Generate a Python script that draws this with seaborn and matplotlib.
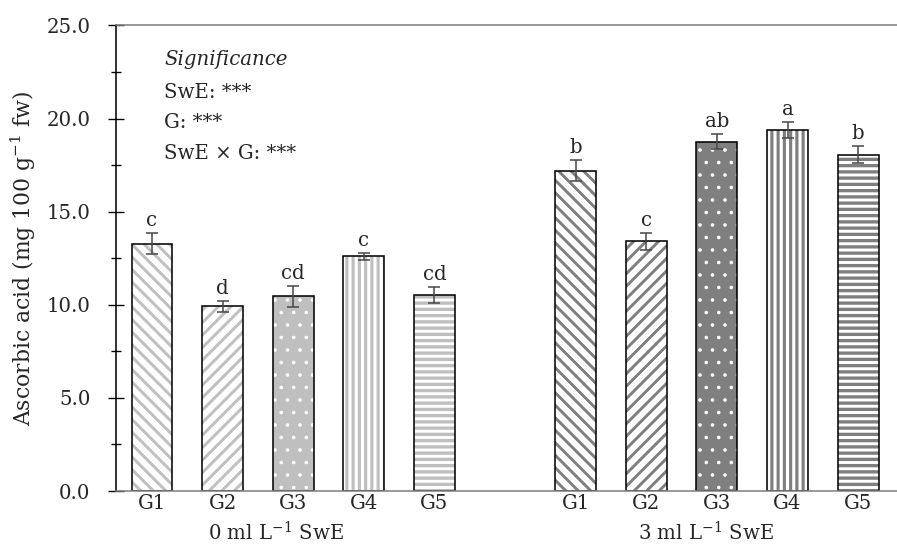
import matplotlib
matplotlib.use('Agg')
import matplotlib.pyplot as plt
import numpy as np
import pandas as pd
import seaborn as sns
from matplotlib.ticker import MultipleLocator, FormatStrFormatter

# bar values (mean and error bar half-length)
genotypes = ['G1', 'G2', 'G3', 'G4', 'G5']
treatments = ['0 ml L$^{-1}$ SwE', '3 ml L$^{-1}$ SwE']
mean_0 = [13.28, 9.91, 10.45, 12.60, 10.54]
err_0 = [0.55, 0.30, 0.58, 0.20, 0.42]
mean_3 = [17.20, 13.42, 18.75, 19.39, 18.06]
err_3 = [0.55, 0.45, 0.40, 0.42, 0.45]
letters_0 = ['c', 'd', 'cd', 'c', 'cd']
letters_3 = ['b', 'c', 'ab', 'a', 'b']
sig_lines = ['SwE: ***', 'G: ***', 'SwE × G: ***']

# positions 0-4 and 6-10, one empty slot between the groups
pos = list(range(5)) + list(range(6, 11))
df = pd.DataFrame({
    'pos': pos,
    'value': mean_0 + mean_3,
    'err': err_0 + err_3,
    'letter': letters_0 + letters_3,
    'label': genotypes + genotypes,
})

sns.set_style('white')
plt.rcParams['font.family'] = ['DejaVu Serif']
plt.rcParams['mathtext.fontset'] = 'dejavuserif'
plt.rcParams['hatch.linewidth'] = 3.0

fig = plt.figure(figsize=(897 / 75, 546 / 75), dpi=75)
ax = fig.add_axes([0.1293, 0.1007, 0.8707, 0.8526])

light = '#bfbfbf'
dark = '#7f7f7f'
hatches = ['\\\\', '//', '.', '||', '--'] * 2
hatch_cols = [light, light, 'white', light, light, dark, dark, 'white', dark, dark]
faces = ['white', 'white', light, 'white', 'white', 'white', 'white', dark, 'white', 'white']
hatch_lw = [2.8, 2.8, 1.0, 3.0, 3.2] * 2

# hatched fill layer
sns.barplot(data=df, x='pos', y='value', native_scale=True, width=0.58,
            errorbar=None, color='white', linewidth=0, ax=ax)
for p, h, hc, fc, hl in zip(ax.patches, hatches, hatch_cols, faces, hatch_lw):
    p.set_facecolor(fc)
    p.set_edgecolor(hc)
    p.set_linewidth(0)
    p.set_hatch(h)
    if hasattr(p, 'set_hatch_linewidth'):
        p.set_hatch_linewidth(hl)

# black outline layer
sns.barplot(data=df, x='pos', y='value', native_scale=True, width=0.58,
            errorbar=None, fill=False, color='black', linewidth=1.5, ax=ax)

ax.errorbar(df['pos'], df['value'], yerr=df['err'], fmt='none',
            ecolor='#4a4a4a', elinewidth=1.5, capsize=6, capthick=1.5, zorder=5)

for x, y, e, t in zip(df['pos'], df['value'], df['err'], df['letter']):
    ax.annotate(t, (x, y + e), xytext=(0, 3), textcoords='offset points',
                ha='center', va='bottom', fontsize=19)

ax.set_xlim(-0.51, 10.55)
ax.set_ylim(0, 25)
ax.set_xticks(pos)
ax.set_xticklabels(df['label'], fontsize=19)
ax.set_xlabel('')
ax.set_ylabel('Ascorbic acid (mg 100 g$^{-1}$ fw)', fontsize=21, labelpad=8)

ax.yaxis.set_major_locator(MultipleLocator(5))
ax.yaxis.set_minor_locator(MultipleLocator(2.5))
ax.yaxis.set_major_formatter(FormatStrFormatter('%.1f'))
ax.tick_params(axis='y', which='major', direction='inout', length=15, width=1.3,
               color='black', pad=17, labelsize=19, left=True)
ax.tick_params(axis='y', which='minor', direction='inout', length=9, width=1.3,
               color='black', left=True)
ax.tick_params(axis='x', length=0, pad=3)

for side in ['top', 'bottom']:
    ax.spines[side].set_color('#808080')
    ax.spines[side].set_linewidth(1.5)
ax.spines['left'].set_color('black')
ax.spines['left'].set_linewidth(1.5)
ax.spines['right'].set_visible(False)

# group labels below the genotype ticks
trans = ax.get_xaxis_transform()
ax.text(1.75, -0.09, treatments[0], transform=trans, ha='center', va='center', fontsize=19)
ax.text(7.85, -0.09, treatments[1], transform=trans, ha='center', va='center', fontsize=19)

# significance box
ax.text(0.0615, 0.926, 'Significance', transform=ax.transAxes, va='center',
        fontsize=19, style='italic')
for i, s in enumerate(sig_lines):
    ax.text(0.0615, 0.857 - i * 0.066, s, transform=ax.transAxes, va='center', fontsize=19)

fig.savefig('out.png', dpi=75)
